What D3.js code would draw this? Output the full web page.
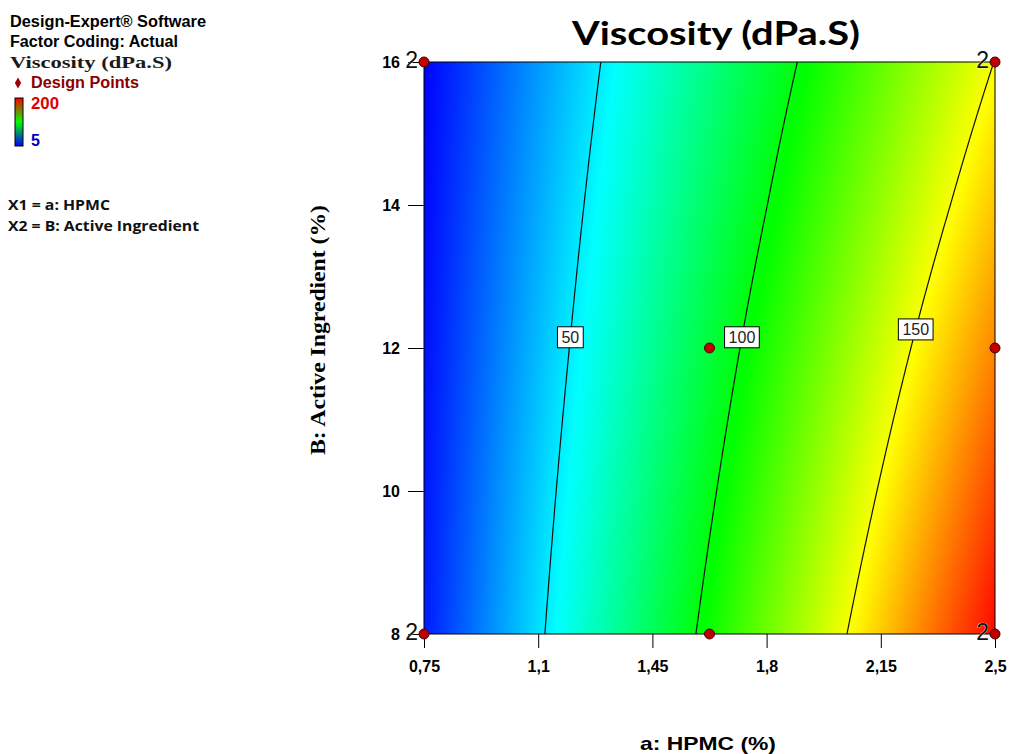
<!DOCTYPE html>
<html>
<head>
<meta charset="utf-8">
<script src="https://cdn.jsdelivr.net/npm/d3@7"></script>
<style>
  body { margin: 0; background: #fff; }
  svg { display: block; }
</style>
</head>
<body>
<div id="chart"></div>
<script>
// factor levels (tick values)
const hpmc = [0.75, 1.1, 1.45, 1.8, 2.15, 2.5];
const active = [8, 10, 12, 14, 16];

const viscosity = [
  [10.0, 47.8, 85.6, 123.4, 161.2, 199.0],
  [8.8, 44.4, 80.0, 115.6, 151.2, 186.8],
  [7.5, 40.9, 74.3, 107.8, 141.2, 174.6],
  [6.3, 37.5, 68.7, 99.8, 131.0, 162.2],
  [5.0, 34.1, 63.1, 92.2, 121.2, 150.3]
];

const contourLevels = [50, 100, 150];
const contourLabelB = [12.15, 12.15, 12.26];

// design points
const designA = [0.75, 2.5, 0.75, 2.5, 1.625, 2.5, 1.625];
const designB = [16, 16, 8, 8, 12, 12, 8];
const designCount = [2, 2, 2, 2, 1, 1, 1];

const colorStops = ['#0000ff', '#00ffff', '#00ff00', '#ffff00', '#ff0000'];
const legendStops = ['#0000ff', '#00ff00', '#ff0000'];
const vMin = 5, vMax = 200;

const width = 1009, height = 754;
const plot = { left: 424, right: 995, top: 62, bottom: 634 };

const svg = d3.select('#chart').append('svg')
  .attr('width', width).attr('height', height);

const x = d3.scaleLinear().domain([0.75, 2.5]).range([plot.left, plot.right]);
const y = d3.scaleLinear().domain([8, 16]).range([plot.bottom, plot.top]);
const color = d3.scaleLinear()
  .domain(d3.range(5).map(i => vMin + i * (vMax - vMin) / 4))
  .range(colorStops)
  .clamp(true);

function valueAt(a, b) {
  const i = Math.max(0, Math.min(hpmc.length - 2, d3.bisectRight(hpmc, a) - 1));
  const j = Math.max(0, Math.min(active.length - 2, d3.bisectRight(active, b) - 1));
  const ta = (a - hpmc[i]) / (hpmc[i + 1] - hpmc[i]);
  const tb = (b - active[j]) / (active[j + 1] - active[j]);
  const lo = viscosity[j][i] * (1 - ta) + viscosity[j][i + 1] * ta;
  const hi = viscosity[j + 1][i] * (1 - ta) + viscosity[j + 1][i + 1] * ta;
  return lo * (1 - tb) + hi * tb;
}

// A where value crosses level, at fixed B
function crossing(level, b) {
  const row = hpmc.map(a => valueAt(a, b));
  for (let k = 0; k < row.length - 1; k++) {
    const v0 = row[k], v1 = row[k + 1];
    if ((v0 - level) * (v1 - level) <= 0 && v0 !== v1) {
      return hpmc[k] + (level - v0) / (v1 - v0) * (hpmc[k + 1] - hpmc[k]);
    }
  }
  return null;
}

// shaded surface
const pw = plot.right - plot.left, ph = plot.bottom - plot.top;
const canvas = document.createElement('canvas');
canvas.width = pw; canvas.height = ph;
const ctx = canvas.getContext('2d');
const img = ctx.createImageData(pw, ph);
for (let py = 0; py < ph; py++) {
  const b = y.invert(plot.top + py + 0.5);
  for (let px = 0; px < pw; px++) {
    const a = x.invert(plot.left + Math.floor(px / 3) * 3 + 1.5);
    const c = d3.rgb(color(valueAt(a, b)));
    const k = (py * pw + px) * 4;
    img.data[k] = c.r; img.data[k + 1] = c.g; img.data[k + 2] = c.b; img.data[k + 3] = 255;
  }
}
ctx.putImageData(img, 0, 0);
svg.append('image')
  .attr('x', plot.left).attr('y', plot.top)
  .attr('width', pw).attr('height', ph)
  .attr('preserveAspectRatio', 'none')
  .attr('href', canvas.toDataURL());

// contour lines
const line = d3.line().x(d => x(d[0])).y(d => y(d[1]));
contourLevels.forEach(level => {
  const pts = [];
  for (let b = 8; b <= 16.0001; b += 0.05) {
    const a = crossing(level, b);
    if (a !== null) pts.push([a, b]);
  }
  svg.append('path')
    .attr('d', line(pts))
    .attr('fill', 'none')
    .attr('stroke', '#111')
    .attr('stroke-width', 1.2);
});

// plot border
svg.append('rect')
  .attr('x', plot.left).attr('y', plot.top)
  .attr('width', pw).attr('height', ph)
  .attr('fill', 'none').attr('stroke', '#000').attr('stroke-width', 1);

// contour labels
contourLevels.forEach((level, i) => {
  const b = contourLabelB[i];
  const a = crossing(level, b);
  const g = svg.append('g').attr('transform', `translate(${x(a)},${y(b)})`);
  const t = g.append('text')
    .attr('text-anchor', 'middle').attr('dy', '0.36em')
    .style('font', '16px "Liberation Sans", Arial, sans-serif')
    .attr('fill', '#222')
    .text(level);
  const w = t.node().getComputedTextLength() + 8;
  g.insert('rect', 'text')
    .attr('x', -w / 2).attr('y', -10.5)
    .attr('width', w).attr('height', 21)
    .attr('fill', '#fff').attr('stroke', '#000');
});

// axes
const fmt = d => d3.format('.2~f')(d).replace('.', ',');
const xAxis = svg.append('g')
  .attr('transform', `translate(0,${plot.bottom})`)
  .call(d3.axisBottom(x).tickValues(hpmc).tickFormat(fmt).tickSize(14).tickPadding(13));
const yAxis = svg.append('g')
  .attr('transform', `translate(${plot.left},0)`)
  .call(d3.axisLeft(y).tickValues(active).tickSize(16).tickPadding(8));
[xAxis, yAxis].forEach(ax => {
  ax.select('.domain').remove();
  ax.selectAll('.tick line').attr('stroke', '#000');
  ax.selectAll('.tick text')
    .attr('fill', '#000')
    .style('font', 'bold 16px "Liberation Sans", Arial, sans-serif');
});

// design points
designA.forEach((a, i) => {
  if (designCount[i] > 1) {
    svg.append('text')
      .attr('x', x(a) - 6).attr('y', y(designB[i]) + 6)
      .attr('text-anchor', 'end')
      .attr('fill', '#111')
      .attr('stroke', '#fff').attr('stroke-width', 0.6).attr('paint-order', 'stroke')
      .style('font', '23px "Liberation Sans", Arial, sans-serif')
      .text(designCount[i]);
  }
  svg.append('circle')
    .attr('cx', x(a)).attr('cy', y(designB[i])).attr('r', 5)
    .attr('fill', '#c00000').attr('stroke', '#4a0000').attr('stroke-width', 1);
});

// titles
svg.append('text')
  .attr('x', 716).attr('y', 45).attr('text-anchor', 'middle')
  .attr('textLength', 288).attr('lengthAdjust', 'spacingAndGlyphs')
  .style('font', 'bold 32px Lato, "Open Sans", sans-serif')
  .text('Viscosity (dPa.S)');

svg.append('text')
  .attr('x', 708).attr('y', 750).attr('text-anchor', 'middle')
  .attr('textLength', 136).attr('lengthAdjust', 'spacingAndGlyphs')
  .style('font', 'bold 19px "Liberation Sans", Arial, sans-serif')
  .text('a: HPMC (%)');

svg.append('text')
  .attr('transform', 'translate(325,330) rotate(-90)')
  .attr('text-anchor', 'middle')
  .attr('textLength', 250).attr('lengthAdjust', 'spacingAndGlyphs')
  .style('font', 'bold 20px "Liberation Serif", "Times New Roman", serif')
  .text('B: Active Ingredient (%)');

// legend block (top left)
const leg = svg.append('g');
leg.append('text').attr('x', 10).attr('y', 27)
  .attr('textLength', 196).attr('lengthAdjust', 'spacingAndGlyphs')
  .style('font', 'bold 16px "Liberation Sans", Arial, sans-serif')
  .text('Design-Expert® Software');
leg.append('text').attr('x', 10).attr('y', 47)
  .attr('textLength', 168).attr('lengthAdjust', 'spacingAndGlyphs')
  .style('font', 'bold 16px "Liberation Sans", Arial, sans-serif')
  .text('Factor Coding: Actual');
leg.append('text').attr('x', 10).attr('y', 68)
  .attr('textLength', 162).attr('lengthAdjust', 'spacingAndGlyphs')
  .attr('fill', '#1a1a1a')
  .style('font', 'bold 17px "Liberation Serif", "Times New Roman", serif')
  .text('Viscosity (dPa.S)');
leg.append('path')
  .attr('transform', 'translate(18,83)')
  .attr('d', d3.symbol(d3.symbolDiamond, 34)())
  .attr('fill', '#a00000');
leg.append('text').attr('x', 31).attr('y', 88)
  .attr('textLength', 108).attr('lengthAdjust', 'spacingAndGlyphs')
  .attr('fill', '#8b0000')
  .style('font', 'bold 16px "Liberation Sans", Arial, sans-serif')
  .text('Design Points');

const grad = svg.append('defs').append('linearGradient')
  .attr('id', 'cbar').attr('x1', 0).attr('x2', 0).attr('y1', 1).attr('y2', 0);
legendStops.forEach((c, i) => {
  grad.append('stop').attr('offset', i / (legendStops.length - 1)).attr('stop-color', c);
});
leg.append('rect')
  .attr('x', 15).attr('y', 98).attr('width', 8).attr('height', 48)
  .attr('fill', 'url(#cbar)').attr('stroke', '#000');
leg.append('text').attr('x', 31).attr('y', 109)
  .attr('textLength', 28).attr('lengthAdjust', 'spacingAndGlyphs')
  .attr('fill', '#e00000')
  .style('font', 'bold 16px "Liberation Sans", Arial, sans-serif')
  .text(vMax);
leg.append('text').attr('x', 31).attr('y', 146)
  .attr('fill', '#0000c0')
  .style('font', 'bold 16px "Liberation Sans", Arial, sans-serif')
  .text(vMin);

leg.append('text').attr('x', 8).attr('y', 210)
  .attr('textLength', 102).attr('lengthAdjust', 'spacingAndGlyphs')
  .style('font', 'bold 14px "Open Sans", Lato, sans-serif')
  .attr('fill', '#111')
  .text('X1 = a: HPMC');
leg.append('text').attr('x', 8).attr('y', 231)
  .attr('textLength', 191).attr('lengthAdjust', 'spacingAndGlyphs')
  .style('font', 'bold 14px "Open Sans", Lato, sans-serif')
  .attr('fill', '#111')
  .text('X2 = B: Active Ingredient');
</script>
</body>
</html>
